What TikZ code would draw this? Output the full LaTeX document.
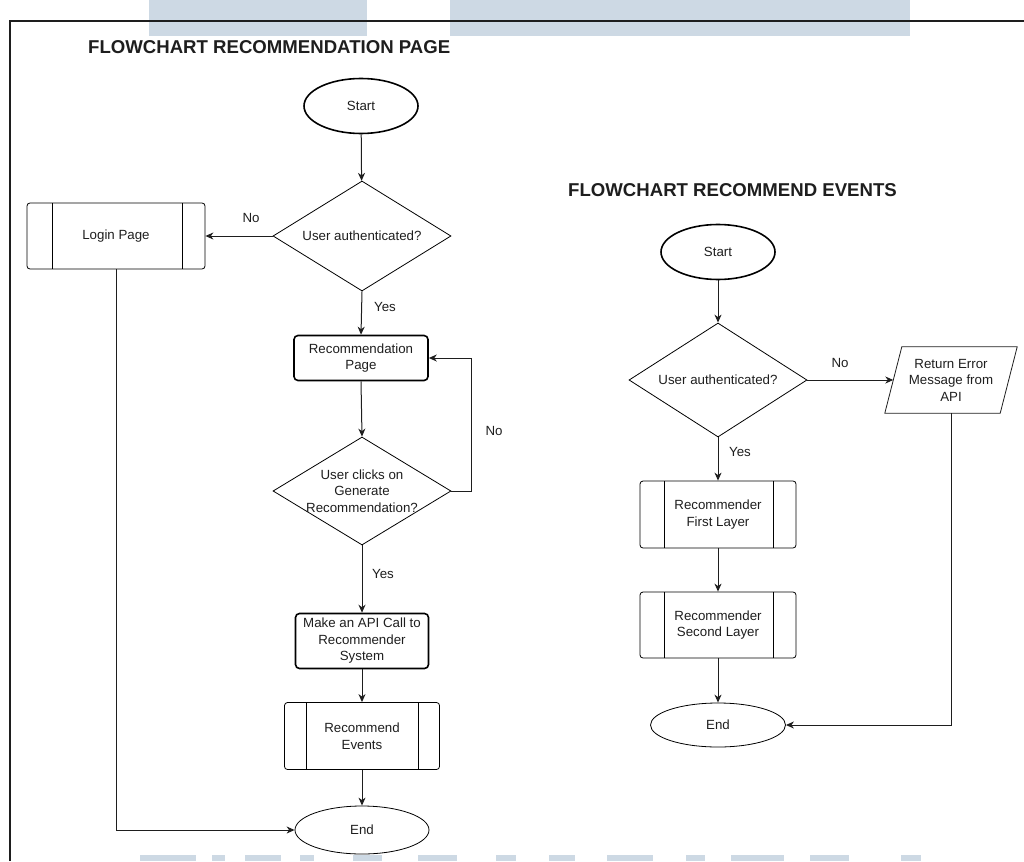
\documentclass[tikz,border=0pt]{standalone}
\usepackage{fontspec}
\setmainfont{Liberation Sans}
\usetikzlibrary{shapes.geometric,arrows.meta}
\definecolor{band}{RGB}{205,217,228}
\definecolor{ink}{RGB}{30,30,30}

\begin{document}
\begin{tikzpicture}[x=1pt,y=-1pt,
  every node/.style={font=\fontsize{13.3}{16.5}\selectfont, text=ink},
  title/.style={font=\bfseries\fontsize{18.6}{22}\selectfont, anchor=west, inner sep=0},
  terminal/.style={draw, ellipse, inner sep=0, minimum width=114pt, minimum height=55pt, line width=1.6pt},
  endterm/.style={draw, ellipse, inner sep=0, minimum width=134pt, minimum height=46pt, line width=0.8pt},
  decision/.style={draw, diamond, inner sep=0, minimum width=178pt, minimum height=110pt, line width=0.8pt},
  action/.style={draw, rectangle, rounded corners=4pt, line width=1.6pt, align=center, inner sep=0},
  subproc/.style={draw, rectangle, rounded corners=3pt, line width=0.8pt, align=center, inner sep=0,
    minimum width=156pt, minimum height=67pt,
    path picture={\draw[line width=0.8pt]
      ([xshift=24pt]path picture bounding box.north west) -- ([xshift=24pt]path picture bounding box.south west)
      ([xshift=-23pt]path picture bounding box.north east) -- ([xshift=-23pt]path picture bounding box.south east);}},
  flow/.style={line width=1pt, draw=ink, -{Stealth[length=8pt,width=7pt,inset=2.5pt]}},
  lbl/.style={inner sep=0}
]
\useasboundingbox (0,0) rectangle (1024,861);

% background bands and frame
\fill[band] (149,0) rectangle (367,36);
\fill[band] (450,0) rectangle (910,36);
\foreach \a/\b in {140/196,212/225,245/281,300/314,353/382,418/457,496/516,549/575,607/653,686/705,731/784,810/849,901/921}
  \fill[band] (\a,855) rectangle (\b,861);
\draw[line width=1.4pt, draw=ink] (10,861) -- (10,21) -- (1024,21);

% ---- Flowchart: recommendation page ----
\node[title] (t1) at (88,47) {FLOWCHART RECOMMENDATION PAGE};
\node[terminal] (s1) at (361,106) {Start};
\node[decision, label={center:User authenticated?}] (d1) at (362,236) {};
\node[subproc, minimum width=178pt, minimum height=66pt,
  path picture={\draw[line width=0.8pt]
      ([xshift=25pt]path picture bounding box.north west) -- ([xshift=25pt]path picture bounding box.south west)
      ([xshift=-23pt]path picture bounding box.north east) -- ([xshift=-23pt]path picture bounding box.south east);}]
  (login) at (116,236) {Login Page};
\node[action, minimum width=134pt, minimum height=45pt] (rp) at (361,358) {Recommendation\\Page};
\node[decision, minimum height=108pt, label={[align=center]center:{User clicks on\\Generate\\Recommendation?}}] (d2) at (362,491) {};
\node[action, minimum width=133pt, minimum height=55pt] (api) at (362,641) {Make an API Call to\\Recommender\\System};
\node[subproc, minimum width=155pt, minimum height=67pt,
  path picture={\draw[line width=0.8pt]
      ([xshift=22pt]path picture bounding box.north west) -- ([xshift=22pt]path picture bounding box.south west)
      ([xshift=-21pt]path picture bounding box.north east) -- ([xshift=-21pt]path picture bounding box.south east);}]
  (re) at (362,736) {Recommend\\Events};
\node[endterm, minimum height=48pt] (e1) at (362,830) {End};

\draw[flow] (s1) -- (d1);
\draw[flow] (d1.west) -- (login.east);
\draw[flow] (d1.south) -- (rp.north);
\draw[flow] (rp.south) -- (d2.north);
\draw[flow] (d2.east) -- ++(20,0) |- (rp.east);
\draw[flow] (d2.south) -- (api.north);
\draw[flow] (api.south) -- (re.north);
\draw[flow] (re.south) -- (e1.north);
\draw[flow] (login.south) |- (e1.west);

\node[lbl] (no1) at (251,218) {No};
\node[lbl] (yes1) at (385,307) {Yes};
\node[lbl] (no2) at (494,431) {No};
\node[lbl] (yes2) at (383,574) {Yes};

% ---- Flowchart: recommend events ----
\node[title] (t2) at (568,190) {FLOWCHART RECOMMEND EVENTS};
\node[terminal] (s2) at (718,252) {Start};
\node[decision, minimum height=114pt, label={center:User authenticated?}] (d3) at (718,380) {};
\node[inner sep=0, minimum width=115pt, minimum height=66pt, align=center] (err) at (951,380) {Return Error\\Message from\\API};
\draw[line width=0.8pt, draw=ink] ([xshift=8.5pt]err.north west) -- ([xshift=8.5pt]err.north east)
  -- ([xshift=-8.5pt]err.south east) -- ([xshift=-8.5pt]err.south west) -- cycle;
\node[subproc] (r1) at (718,514.5) {Recommender\\First Layer};
\node[subproc, minimum height=66pt] (r2) at (718,625) {Recommender\\Second Layer};
\node[endterm, minimum width=135pt, minimum height=44pt] (e2) at (718,725) {End};

\draw[flow] (s2) -- (d3);
\draw[flow] (d3.east) -- (err.west);
\draw[flow] (d3.south) -- (r1.north);
\draw[flow] (r1.south) -- (r2.north);
\draw[flow] (r2.south) -- (e2.north);
\draw[flow] (err.south) |- (e2.east);

\node[lbl] (no3) at (840,363) {No};
\node[lbl] (yes3) at (740,452) {Yes};
\end{tikzpicture}
\end{document}
